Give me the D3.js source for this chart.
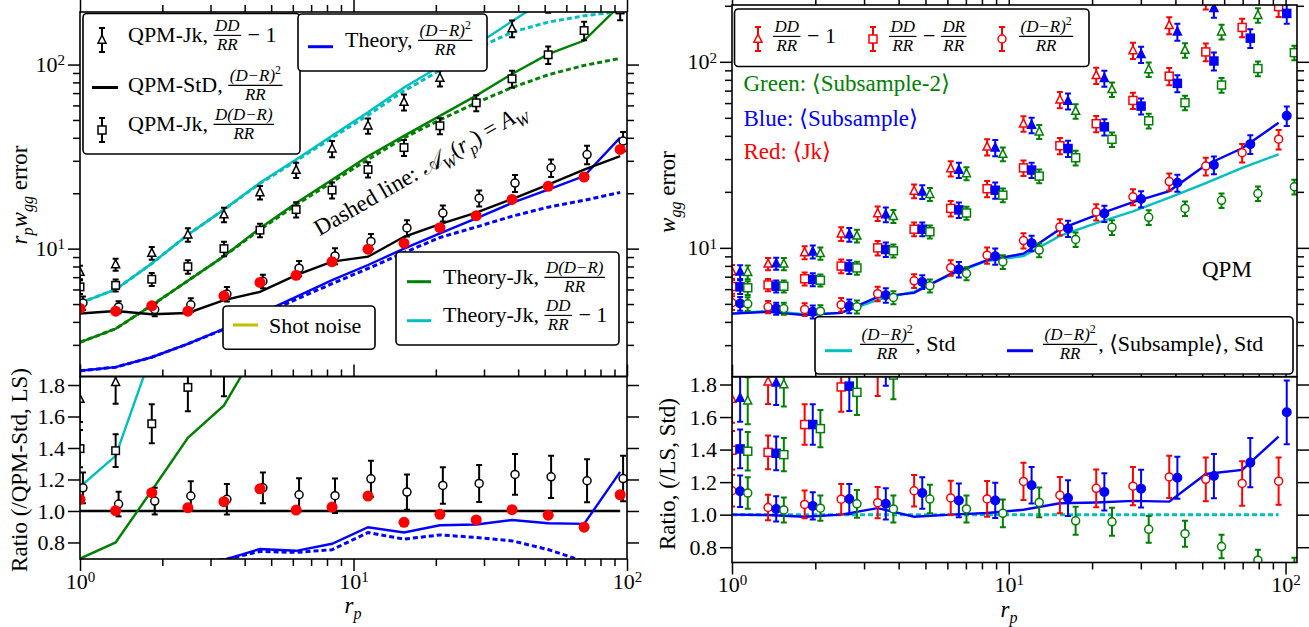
<!DOCTYPE html>
<html>
<head>
<meta charset="utf-8">
<script src="https://d3js.org/d3.v7.min.js"></script>
<style>
body { margin: 0; background: #fff; }
svg { display: block; }
text { font-family: "Liberation Serif", "DejaVu Serif", serif; white-space: pre; }
</style>
</head>
<body>
<script>

// ---------- data ----------
var rp = [1.0, 1.35, 1.83, 2.48, 3.36, 4.55, 6.17, 8.35, 11.3, 15.3, 20.7, 28.1, 38.0, 51.5, 69.7, 94.4];

// left top: r_p w_gg error
var jkDD      = [7.45, 8.2, 9.45, 11.9, 15.3, 20.2, 26.7, 34.9, 46.5, 62.5, 84.5, 115, 157, 215, 290, 390];
var jkDR      = [6.2, 6.32, 6.82, 7.98, 10.0, 12.6, 16.3, 20.8, 26.9, 35.4, 46.5, 62.0, 83.7, 113, 153, 198];
var jkLS      = [5.07, 4.82, 4.67, 4.95, 5.67, 6.65, 7.83, 9.13, 10.95, 12.95, 15.6, 18.8, 22.7, 27.5, 32.45, 38.4];
var stdLS     = [4.44, 4.58, 4.40, 4.47, 5.25, 5.82, 7.18, 8.5, 9.04, 11.6, 13.6, 15.7, 18.6, 22.3, 26.9, 31.8];
var theoryPts = [4.73, 4.57, 4.89, 4.57, 5.54, 6.55, 7.16, 8.5, 9.93, 10.7, 13.0, 15.1, 18.5, 21.8, 24.5, 34.6];
var theoryLS     = [2.17, 2.27, 2.57, 3.04, 3.67, 4.44, 5.47, 6.75, 8.15, 10.0, 12.1, 14.6, 17.7, 20.9, 24.8, 40.1];
var theoryLSAw   = [2.17, 2.27, 2.57, 3.04, 3.65, 4.33, 5.3, 6.45, 7.8, 9.5, 11.5, 13.1, 15.0, 16.8, 18.3, 20.2];
var theoryJkDR   = [3.1, 3.67, 4.92, 6.7, 9.1, 12.9, 17.7, 23.7, 31.8, 41, 52.6, 67.8, 88.9, 114, 135, 210];
var theoryJkDRAw = [3.1, 3.67, 4.92, 6.7, 9.1, 12.7, 17.3, 23.0, 30.5, 40, 50, 62, 75, 88, 99, 108];
var theoryJkDD   = [5.07, 6.0, 8.3, 11.9, 16.3, 22.8, 30.5, 41, 55, 75, 98, 128, 172, 230, 300, 380];
var theoryJkDDAw = [5.07, 6.0, 8.3, 11.9, 16.3, 22.6, 30, 40, 53, 72, 93, 122, 150, 170, 184, 194];

// right top: w_gg error
var subDD  = [7.43, 8.24, 9.53, 11.8, 15.1, 20.0, 26.2, 34.5, 45.7, 61.5, 81.5, 109.6, 145, 194, 260, 340];
var subDR  = [6.17, 6.22, 6.76, 7.9, 9.8, 12.6, 16.0, 20.4, 26.2, 34.2, 44.7, 57.8, 76.6, 101, 134, 182];
var subLS  = [5.02, 4.72, 4.53, 4.87, 5.57, 6.56, 7.66, 9.02, 10.6, 12.7, 15.3, 18.3, 22.4, 27.9, 36.1, 51.3];
var sub2DD = [7.4, 8.2, 9.34, 11.6, 14.8, 19.4, 25.1, 31.9, 42.1, 54.3, 71.1, 91, 115.6, 145, 178, 230];
var sub2DR = [6.1, 6.22, 6.7, 7.8, 9.64, 12.2, 15.4, 19.2, 24.3, 30.5, 38.3, 48.2, 60.3, 75, 92, 112];
var sub2LS = [5.0, 4.72, 4.57, 4.82, 5.41, 6.25, 7.28, 8.41, 9.73, 11.1, 12.9, 14.6, 16.3, 18.0, 19.6, 21.3];
var subStd = [4.43, 4.53, 4.35, 4.47, 5.45, 5.73, 7.25, 8.6, 9.3, 12.6, 15.0, 17.6, 20.2, 27.9, 34.3, 47.0];

// ratio panels
var rJkDD  = [1.71, 1.817, 2.15, 2.66, 2.9, 3.47, 3.72, 4.1, 5.1, 5.4, 6.2, 7.3, 8.4, 9.6, 10.8, 12.3];
var rJkDR  = [1.396, 1.383, 1.554, 1.785, 1.9, 2.17, 2.27, 2.44, 2.97, 3.05, 3.42, 3.95, 4.5, 5.07, 5.7, 6.2];
var rJkLS  = [1.147, 1.044, 1.063, 1.095, 1.074, 1.147, 1.103, 1.097, 1.204, 1.12, 1.162, 1.175, 1.232, 1.217, 1.192, 1.206];
var rTheoryPts   = [1.074, 1.002, 1.116, 1.021, 1.059, 1.141, 1.006, 1.025, 1.095, 0.928, 0.979, 0.943, 1.008, 0.973, 0.897, 1.103];
var rTheoryLS    = [0.49, 0.5, 0.58, 0.68, 0.69, 0.758, 0.747, 0.792, 0.897, 0.863, 0.909, 0.914, 0.943, 0.922, 0.918, 1.248];
var rTheoryLSAw  = [0.49, 0.5, 0.58, 0.68, 0.69, 0.743, 0.737, 0.754, 0.863, 0.821, 0.848, 0.832, 0.81, 0.755, 0.68, 0.635];
var rTheoryJkDR  = [0.697, 0.8, 1.13, 1.465, 1.67, 2.06, 2.45, 2.8, 3.5, 3.5, 3.9, 4.3, 4.8, 5.1, 5.0, 6.6];
var rTheoryJkDD  = [1.154, 1.35, 2.0, 2.66, 3.1, 3.9, 4.25, 4.8, 6.1, 6.5, 7.2, 8.2, 9.2, 10.3, 11.2, 12];
var rStd     = [1, 1, 1, 1, 1, 1, 1, 1, 1, 1, 1, 1, 1, 1, 1, 1];
var rSubDD   = [1.717, 1.81, 2.17, 2.64, 2.88, 3.44, 3.65, 4.06, 5.06, 5.3, 6.0, 7.0, 7.8, 8.7, 9.7, 10.7];
var rSubDR   = [1.404, 1.377, 1.554, 1.79, 1.97, 2.17, 2.23, 2.4, 2.9, 2.95, 3.29, 3.68, 4.12, 4.53, 4.98, 5.72];
var rSubLS   = [1.144, 1.035, 1.054, 1.096, 1.067, 1.133, 1.0875, 1.0875, 1.181, 1.102, 1.14, 1.16, 1.227, 1.2375, 1.32, 1.629];
var rSub2DD  = [1.7, 1.8, 2.12, 2.6, 2.82, 3.33, 3.5, 3.75, 4.66, 4.68, 5.23, 5.8, 6.2, 6.5, 6.6, 7.2];
var rSub2DR  = [1.39, 1.369, 1.529, 1.752, 1.858, 2.1, 2.14, 2.26, 2.69, 2.63, 2.82, 3.07, 3.24, 3.36, 3.42, 3.52];
var rSub2LS  = [1.133, 1.029, 1.04, 1.067, 1.035, 1.096, 1.035, 1.008, 1.075, 0.9625, 0.956, 0.91, 0.883, 0.804, 0.72, 0.675];
var rSubStd  = [1.0, 0.998, 0.9875, 1.0, 1.04, 0.9875, 1.0, 1.01, 1.03, 1.07, 1.075, 1.085, 1.08, 1.25, 1.275, 1.48];

// relative error bars
var errJk   = [0.085, 0.075, 0.08, 0.085, 0.09, 0.085, 0.095, 0.1, 0.095, 0.1, 0.1, 0.1, 0.105, 0.11, 0.115, 0.12];
var errSub2 = [0.085, 0.075, 0.075, 0.08, 0.08, 0.08, 0.08, 0.085, 0.085, 0.09, 0.09, 0.09, 0.09, 0.09, 0.09, 0.09];

var RED = "#ff0000", BLUE = "#0000ff", GREEN = "#008000", CYAN = "#00bfbf", YEL = "#bfbf00";
var FONT = "Liberation Serif, DejaVu Serif, serif";

var svg = d3.select("body").append("svg").attr("width", 1309).attr("height", 627);
svg.append("rect").attr("width", 1309).attr("height", 627).attr("fill", "#fff");

// ---------- helpers ----------
function panel(id, x0, x1, y0, y1, xdom, ydom, ylog) {
	var p = {};
	p.x = d3.scaleLog().domain(xdom).range([x0, x1]);
	p.y = (ylog ? d3.scaleLog() : d3.scaleLinear()).domain(ydom).range([y1, y0]);
	p.log = ylog;
	p.box = [x0, x1, y0, y1];
	svg.append("clipPath").attr("id", id).append("rect")
		.attr("x", x0).attr("y", y0).attr("width", x1 - x0).attr("height", y1 - y0);
	p.g = svg.append("g").attr("clip-path", "url(#" + id + ")");
	return p;
}

function line(p, xs, ys, col, dash, w) {
	var l = d3.line().x(function(d, i){ return p.x(xs[i]); }).y(function(d){ return p.y(d); });
	p.g.append("path").datum(ys).attr("d", l).attr("fill", "none")
		.attr("stroke", col).attr("stroke-width", w || 2.4)
		.attr("stroke-dasharray", dash ? "5,3" : null);
}

function errbar(g, cx, y1, y2, col) {
	g.append("line").attr("x1", cx).attr("x2", cx).attr("y1", y1).attr("y2", y2)
		.attr("stroke", col).attr("stroke-width", 2);
	[y1, y2].forEach(function(y){
		g.append("line").attr("x1", cx - 3).attr("x2", cx + 3).attr("y1", y).attr("y2", y)
			.attr("stroke", col).attr("stroke-width", 2);
	});
}

function marker(g, shape, cx, cy, col, fill, s) {
	var m;
	if (shape === "tri") {
		m = g.append("path").attr("d", "M" + cx + "," + (cy - s * 0.6) + "L" + (cx + s / 2) + "," + (cy + s * 0.4) +
			"L" + (cx - s / 2) + "," + (cy + s * 0.4) + "Z");
	} else if (shape === "sq") {
		m = g.append("rect").attr("x", cx - s / 2).attr("y", cy - s / 2).attr("width", s).attr("height", s);
	} else {
		m = g.append("circle").attr("cx", cx).attr("cy", cy).attr("r", s / 2);
	}
	m.attr("fill", fill ? col : "#fff").attr("stroke", shape === "dot" ? "none" : col).attr("stroke-width", 1.5);
}

function pts(p, xs, ys, errs, shape, col, fill, xf, size) {
	xs.forEach(function(xv, i){
		var cx = p.x(xv * (xf || 1)), v = ys[i];
		if (errs) errbar(p.g, cx, p.y(v * (1 - errs[i])), p.y(v * (1 + errs[i])), col);
		marker(p.g, shape, cx, p.y(v), col, fill, size || 8);
	});
}

// rich text: one <text> per label, tspans for italic / sub / sup and stacked fractions
function S(t, f) { var o = {t: t}; for (var k in f) o[k] = f[k]; return o; }
var IT = {it: 1};

function appendSegs(t, x, y, segs, fs) {
	segs.forEach(function(s, i){
		var sp = t.append("tspan").text(s.t)
			.attr("y", y + (s.sup ? -0.42 * fs : (s.sub ? 0.28 * fs : 0)))
			.attr("font-size", (s.sup || s.sub) ? fs * 0.7 : fs);
		if (i === 0) sp.attr("x", x);
		if (s.it) sp.attr("font-style", "italic");
	});
}
function measure(parent, segs, fs) {
	var t = parent.append("text");
	appendSegs(t, 0, 0, segs, fs);
	var w = t.node().getComputedTextLength();
	t.remove();
	return w;
}

function rich(parent, x, y, items, o) {
	o = o || {};
	var fs = o.size || 22, col = o.color || "#000";
	var g = parent.append("g"), inner = g.append("g");
	var cx = 0;
	items.forEach(function(it){
		if (it.frac) {
			var ffs = fs * 0.77, ax = -fs * 0.3;
			var wn = measure(inner, it.frac[0], ffs), wd = measure(inner, it.frac[1], ffs);
			var w = Math.max(wn, wd) + 3;
			appendSegs(inner.append("text").attr("fill", col), cx + (w - wn) / 2, ax - ffs * 0.25, it.frac[0], ffs);
			appendSegs(inner.append("text").attr("fill", col), cx + (w - wd) / 2, ax + ffs * 0.88, it.frac[1], ffs);
			inner.append("line").attr("x1", cx).attr("x2", cx + w).attr("y1", ax).attr("y2", ax)
				.attr("stroke", col).attr("stroke-width", 1.1);
			cx += w + 1;
		} else {
			var ws = measure(inner, it.segs, fs);
			appendSegs(inner.append("text").attr("fill", col), cx, 0, it.segs, fs);
			cx += ws;
		}
	});
	var dx = o.anchor === "middle" ? -cx / 2 : (o.anchor === "end" ? -cx : 0);
	inner.attr("transform", "translate(" + dx + ",0)");
	g.attr("transform", "translate(" + x + "," + y + ") rotate(" + (o.rotate || 0) + ")");
	return cx;
}
function T(s, f) { return {segs: [S(s, f)]}; }

var fDD  = {frac: [[S("DD", IT)], [S("RR", IT)]]};
var fDR  = {frac: [[S("DR", IT)], [S("RR", IT)]]};
var fLS  = {frac: [[S("(D−R)", IT), S("2", {sup: 1})], [S("RR", IT)]]};
var fDDR = {frac: [[S("D(D−R)", IT)], [S("RR", IT)]]};

function logTicks(dom) {
	var maj = [], min = [];
	for (var k = -1; k <= 3; k++) for (var m = 1; m < 10; m++) {
		var v = m * Math.pow(10, k);
		if (v >= dom[0] * 0.999 && v <= dom[1] * 1.001) (m === 1 ? maj : min).push(v);
	}
	return [maj, min];
}

function putAxis(axis, tx, ty) {
	var g = svg.append("g").attr("transform", "translate(" + tx + "," + ty + ")").call(axis);
	g.select(".domain").remove();
	g.selectAll("line").attr("stroke", "#000").attr("stroke-width", 1.5);
	g.attr("font-size", 22).attr("font-family", FONT);
	g.selectAll("text").attr("fill", "#000");
	return g;
}
function powLabels(g) {
	g.selectAll(".tick text").each(function(d){
		var t = d3.select(this), k = Math.round(Math.log10(d));
		t.text(null);
		t.append("tspan").text("10");
		t.append("tspan").attr("dy", "-0.45em").attr("font-size", "15px").text(k);
	});
}

function axes(p, bottomLabels) {
	var b = p.box, xt = logTicks(p.x.domain());
	putAxis(d3.axisTop(p.x).tickValues(xt[1]).tickSize(7).tickFormat(""), 0, b[2]);
	putAxis(d3.axisTop(p.x).tickValues(xt[0]).tickSize(12).tickFormat(""), 0, b[2]);
	if (bottomLabels) {
		putAxis(d3.axisBottom(p.x).tickValues(xt[1]).tickSize(7).tickFormat(""), 0, b[3]);
		powLabels(putAxis(d3.axisBottom(p.x).tickValues(xt[0]).tickSize(12).tickPadding(2), 0, b[3]));
	}
	if (p.log) {
		var yt = logTicks(p.y.domain());
		putAxis(d3.axisLeft(p.y).tickValues(yt[1]).tickSize(7).tickFormat(""), b[0], 0);
		powLabels(putAxis(d3.axisLeft(p.y).tickValues(yt[0]).tickSize(12).tickPadding(3), b[0], 0));
		putAxis(d3.axisRight(p.y).tickValues(yt[1]).tickSize(7).tickFormat(""), b[1], 0);
		putAxis(d3.axisRight(p.y).tickValues(yt[0]).tickSize(12).tickFormat(""), b[1], 0);
	} else {
		var lt = [0.8, 1.0, 1.2, 1.4, 1.6, 1.8];
		putAxis(d3.axisLeft(p.y).tickValues(lt).tickSize(12).tickPadding(3).tickFormat(d3.format(".1f")), b[0], 0);
		putAxis(d3.axisRight(p.y).tickValues(lt).tickSize(12).tickFormat(""), b[1], 0);
	}
	svg.append("rect").attr("x", b[0]).attr("y", b[2]).attr("width", b[1] - b[0]).attr("height", b[3] - b[2])
		.attr("fill", "none").attr("stroke", "#000").attr("stroke-width", 1.6);
}

function legendBox(x, y, w, h) {
	svg.append("rect").attr("x", x).attr("y", y).attr("width", w).attr("height", h).attr("rx", 4)
		.attr("fill", "#fff").attr("stroke", "#000").attr("stroke-width", 1.6);
}
function legLine(x1, x2, y, col) {
	svg.append("line").attr("x1", x1).attr("x2", x2).attr("y1", y).attr("y2", y)
		.attr("stroke", col).attr("stroke-width", 3);
}
function legMark(x, y, shape, col) {
	errbar(svg, x, y - 12, y + 12, col);
	marker(svg, shape, x, y, col, false, 8);
}

// ---------- panels ----------
var LT = panel("cLT", 80, 627, 12, 376.5, [1, 100], [2.02, 193], true);
var LB = panel("cLB", 80, 627, 376.5, 559, [1, 100], [0.695, 1.854], false);
var RT = panel("cRT", 732, 1297, 5, 376.7, [1, 110], [2.03, 202], true);
var RB = panel("cRB", 732, 1297, 376.7, 562.5, [1, 110], [0.706, 1.848], false);

// left top
line(LT, rp, theoryLSAw, BLUE, true, 3);
line(LT, rp, theoryLS, BLUE, false);
line(LT, rp, theoryJkDRAw, GREEN, true, 3);
line(LT, rp, theoryJkDR, GREEN, false);
line(LT, rp, theoryJkDDAw, CYAN, true, 3);
line(LT, rp, theoryJkDD, CYAN, false);
line(LT, rp, stdLS, "#000", false);
pts(LT, rp, jkDD, errJk, "tri", "#000", false, 1, 8);
pts(LT, rp, jkDR, errJk, "sq", "#000", false, 1, 7.5);
pts(LT, rp, jkLS, errJk, "circ", "#000", false, 1.025, 8);
pts(LT, rp, theoryPts, null, "dot", RED, true, 1, 11);

// left bottom
line(LB, rp, rStd, "#000", false);
line(LB, rp, rTheoryLSAw, BLUE, true, 3);
line(LB, rp, rTheoryLS, BLUE, false);
line(LB, rp, rTheoryJkDR, GREEN, false);
line(LB, rp, rTheoryJkDD, CYAN, false);
pts(LB, rp, rJkDD, errJk, "tri", "#000", false, 1, 8);
pts(LB, rp, rJkDR, errJk, "sq", "#000", false, 1, 7.5);
pts(LB, rp, rJkLS, errJk, "circ", "#000", false, 1.025, 8);
pts(LB, rp, rTheoryPts, null, "dot", RED, true, 1, 11);

// right top
line(RT, rp, stdLS, CYAN, false);
line(RT, rp, subStd, BLUE, false);
pts(RT, rp, jkDD, errJk, "tri", RED, false, 1, 8);
pts(RT, rp, jkDR, errJk, "sq", RED, false, 1, 8);
pts(RT, rp, jkLS, errJk, "circ", RED, false, 1, 8);
pts(RT, rp, subDD, errJk, "tri", BLUE, true, 1.07, 8);
pts(RT, rp, subDR, errJk, "sq", BLUE, true, 1.07, 8);
pts(RT, rp, subLS, errJk, "circ", BLUE, true, 1.07, 8.5);
pts(RT, rp, sub2DD, errSub2, "tri", GREEN, false, 1.14, 8);
pts(RT, rp, sub2DR, errSub2, "sq", GREEN, false, 1.14, 8);
pts(RT, rp, sub2LS, errSub2, "circ", GREEN, false, 1.14, 8);

// right bottom
line(RB, rp, rStd, CYAN, true, 3);
line(RB, rp, rSubStd, BLUE, false);
pts(RB, rp, rJkDD, errJk, "tri", RED, false, 1, 8);
pts(RB, rp, rJkDR, errJk, "sq", RED, false, 1, 8);
pts(RB, rp, rJkLS, errJk, "circ", RED, false, 1, 8);
pts(RB, rp, rSubDD, errJk, "tri", BLUE, true, 1.07, 8);
pts(RB, rp, rSubDR, errJk, "sq", BLUE, true, 1.07, 8);
pts(RB, rp, rSubLS, errJk, "circ", BLUE, true, 1.07, 8.5);
pts(RB, rp, rSub2DD, errSub2, "tri", GREEN, false, 1.14, 8);
pts(RB, rp, rSub2DR, errSub2, "sq", GREEN, false, 1.14, 8);
pts(RB, rp, rSub2LS, errSub2, "circ", GREEN, false, 1.14, 8);

axes(LT, false);
axes(LB, true);
axes(RT, false);
axes(RB, true);

// ---------- axis titles ----------
rich(svg, 27, 195, [{segs: [S("r", IT), S("p", {it: 1, sub: 1}), S("w", IT), S("gg", {it: 1, sub: 1}), S(" error")]}],
	{rotate: -90, anchor: "middle", size: 23});
rich(svg, 27, 470, [T("Ratio (/QPM-Std, LS)")], {rotate: -90, anchor: "middle", size: 23});
rich(svg, 675, 192, [{segs: [S("w", IT), S("gg", {it: 1, sub: 1}), S(" error")]}], {rotate: -90, anchor: "middle", size: 23});
rich(svg, 675, 474, [T("Ratio, (/LS, Std)")], {rotate: -90, anchor: "middle", size: 23});
rich(svg, 353, 613, [{segs: [S("r", IT), S("p", {it: 1, sub: 1})]}], {anchor: "middle", size: 23});
rich(svg, 1009, 617, [{segs: [S("r", IT), S("p", {it: 1, sub: 1})]}], {anchor: "middle", size: 23});

// ---------- left legends ----------
legendBox(83, 13.5, 217, 140.5);
legMark(102, 40, "tri", "#000");
rich(svg, 128, 42, [T("QPM-Jk, "), fDD, T(" − 1")]);
legLine(92, 118, 87.5, "#000");
rich(svg, 128, 92, [T("QPM-StD, "), fLS]);
legMark(102, 130, "sq", "#000");
rich(svg, 128, 131, [T("QPM-Jk, "), fDDR]);

legendBox(298, 14, 189, 57);
legLine(308, 333, 46.7, BLUE);
rich(svg, 345, 47, [T("Theory, "), fLS]);

legendBox(396, 252, 223, 93);
legLine(407, 431, 281.7, GREEN);
rich(svg, 443, 284, [T("Theory-Jk, "), fDDR]);
legLine(407, 431, 320.7, CYAN);
rich(svg, 443, 322, [T("Theory-Jk, "), fDD, T(" − 1")]);

legendBox(223, 306, 152, 43.3);
legLine(233, 258, 325, YEL);
rich(svg, 269, 333, [T("Shot noise")]);

rich(svg, 424, 176, [T("Dashed line: "), T("𝒜", IT), T("W", {it: 1, sub: 1}), T("("), T("r", IT), T("p", {it: 1, sub: 1}),
	T(") = "), T("A", IT), T("W", {it: 1, sub: 1})], {rotate: -30, anchor: "middle", size: 23});

// ---------- right legends ----------
legendBox(734.5, 9, 354.5, 57.5);
legMark(758, 39, "tri", RED);
rich(svg, 773, 43, [fDD, T(" − 1")]);
legMark(873, 39, "sq", RED);
rich(svg, 889, 43, [fDD, T(" − "), fDR]);
legMark(1002, 39, "circ", RED);
rich(svg, 1019, 43, [fLS]);

rich(svg, 743.5, 90.7, [T("Green: ⟨Subsample-2⟩")], {color: GREEN, size: 23});
rich(svg, 743.5, 126, [T("Blue: ⟨Subsample⟩")], {color: BLUE, size: 23});
rich(svg, 743.5, 159, [T("Red: ⟨Jk⟩")], {color: RED, size: 23});
rich(svg, 1202, 277, [T("QPM")], {size: 23});

legendBox(815, 316.7, 478, 57.3);
legLine(825, 852, 350.7, CYAN);
rich(svg, 860, 351, [fLS, T(", Std")]);
legLine(1007, 1033, 350.7, BLUE);
rich(svg, 1043, 351, [fLS, T(", ⟨Subsample⟩, Std")]);

</script>
</body>
</html>
